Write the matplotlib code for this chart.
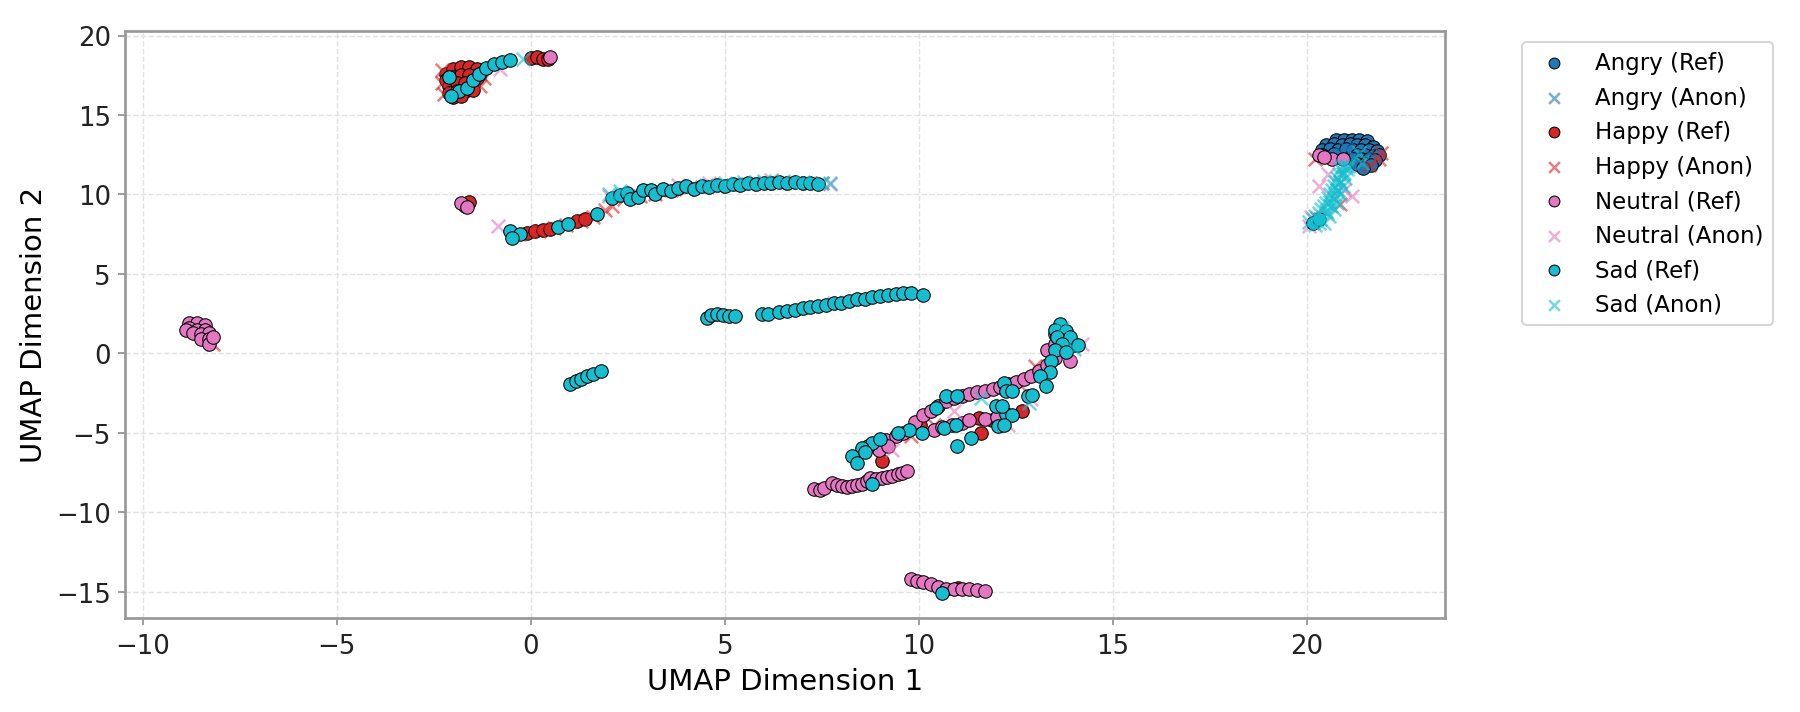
import numpy as np
import matplotlib
matplotlib.use("Agg")
import matplotlib.pyplot as plt

# ---------------------------------------------------------------------------
# UMAP points (x, y)
# ---------------------------------------------------------------------------
emotions = ["Angry", "Happy", "Neutral", "Sad"]

angry_ref = [
    (20.75, 13.4), (20.95, 13.45), (21.15, 13.45), (21.35, 13.4), (21.55, 13.35),
    (20.5, 13.1), (20.7, 13.15), (20.9, 13.1), (21.1, 13.15), (21.3, 13.1), (21.5, 13.1), (21.7, 13.0),
    (20.4, 12.8), (20.6, 12.85), (20.8, 12.8), (21.0, 12.85), (21.2, 12.8), (21.4, 12.8), (21.6, 12.8), (21.8, 12.75),
    (20.4, 12.5), (20.7, 12.55), (21.3, 12.5), (21.5, 12.5), (21.7, 12.45), (21.85, 12.5),
    (21.2, 12.2), (21.4, 12.2), (21.6, 12.2), (21.75, 12.15),
    (21.3, 11.9), (21.5, 11.9), (21.65, 11.85), (21.45, 11.65),
]
angry_anon = [(21.0, 12.9), (21.2, 12.4), (20.9, 12.6), (21.6, 12.6)]

happy_ref = [
    (-2.2, 17.6), (-2.0, 17.9), (-1.8, 18.0), (-1.6, 18.0), (-1.4, 17.9), (-1.3, 17.6),
    (-2.2, 17.2), (-2.0, 17.4), (-1.8, 17.5), (-1.6, 17.5), (-1.4, 17.3),
    (-2.1, 16.8), (-1.9, 17.0), (-1.7, 17.0), (-1.5, 16.9),
    (-2.1, 16.4), (-1.9, 16.5), (-1.7, 16.5), (-1.5, 16.6), (-2.0, 16.1), (-1.8, 16.2),
    (0.0, 18.6), (0.15, 18.65), (0.3, 18.55), (0.45, 18.5),
    (-1.6, 9.55),
    (-0.1, 7.6), (0.1, 7.7), (0.3, 7.75), (0.5, 7.85), (1.2, 8.3), (1.4, 8.45),
    (11.55, -4.06), (11.89, -4.16), (12.65, -3.6), (11.59, -5.0), (9.05, -6.78), (10.04, -4.48),
    (11.0, -14.75),
]
happy_anon = [
    (-2.3, 17.0), (-2.25, 16.3), (-1.3, 16.8), (-1.2, 17.3), (-2.3, 17.8),
    (-0.3, 7.5), (0.2, 7.7), (0.6, 7.9), (0.9, 8.05), (1.3, 8.35), (1.6, 8.6), (1.9, 9.0),
    (2.1, 9.3), (2.4, 9.7), (2.8, 9.9), (3.2, 10.05), (3.6, 10.25), (4.0, 10.35), (4.4, 10.45),
    (4.8, 10.55), (5.2, 10.6), (5.6, 10.65), (6.0, 10.7), (6.4, 10.72), (6.8, 10.75), (7.2, 10.72), (7.5, 10.7),
    (21.9, 12.6), (21.85, 12.2), (21.6, 11.85), (20.2, 12.2), (20.85, 9.4), (20.25, 8.5),
    (13.0, -0.8), (12.6, -2.0), (10.4, -4.5), (9.8, -5.2), (-8.2, 0.6),
]

neutral_ref = [
    (-8.8, 1.9), (-8.6, 1.9), (-8.4, 1.8), (-8.8, 1.6), (-8.6, 1.5), (-8.4, 1.5), (-8.9, 1.45),
    (-8.7, 1.3), (-8.5, 1.2), (-8.3, 1.3), (-8.5, 0.9), (-8.3, 0.9), (-8.3, 0.6), (-8.2, 1.0),
    (0.5, 18.65),
    (-1.7, 9.3), (-1.8, 9.45), (-1.65, 9.2),
    (9.9, -4.3), (10.1, -3.9), (10.3, -3.6), (10.5, -3.3), (10.7, -3.0), (10.9, -2.8), (11.1, -2.65),
    (11.3, -2.55), (11.5, -2.45), (11.7, -2.35), (11.9, -2.25), (12.1, -2.1), (12.3, -1.95), (12.5, -1.8),
    (12.7, -1.6), (12.9, -1.4), (13.1, -1.1), (13.3, -0.7), (13.5, -0.3), (13.3, 0.2), (13.5, 0.6),
    (13.5, 1.2), (13.8, 0.7), (14.0, 0.5), (13.9, -0.5),
    (10.4, -4.8), (10.6, -4.6), (10.85, -4.5), (11.1, -4.4), (11.3, -4.2), (11.7, -4.1), (12.0, -4.0),
    (9.14, -5.42), (9.4, -5.2), (9.6, -5.0), (8.97, -6.05), (9.2, -5.8), (8.7, -5.8),
    (7.29, -8.56), (7.45, -8.6), (7.55, -8.45), (7.77, -8.14), (7.9, -8.3), (8.02, -8.35), (8.15, -8.4),
    (8.28, -8.35), (8.4, -8.3), (8.54, -8.24), (8.65, -8.0), (8.75, -7.82), (8.9, -7.9), (9.05, -7.82),
    (9.18, -7.8), (9.31, -7.72), (9.45, -7.6), (9.57, -7.51), (9.70, -7.41),
    (20.3, 12.5), (20.64, 12.2), (20.94, 12.2), (20.45, 12.35),
    (9.8, -14.2), (9.95, -14.3), (10.1, -14.4), (10.3, -14.5), (10.5, -14.7), (10.7, -14.85),
    (10.9, -14.8), (11.1, -14.8), (11.3, -14.85), (11.5, -14.9), (11.7, -14.95),
]
neutral_anon = [
    (-0.8, 17.9), (-0.85, 8.0), (7.8, 3.15),
    (2.0, 9.9), (3.8, 10.6), (6.2, 10.9), (7.7, 10.65), (4.6, 10.7),
    (10.9, -3.6), (12.9, -2.9), (13.9, 0.0), (14.2, 0.6), (9.3, -6.1), (12.3, -4.5),
    (20.3, 10.5), (20.1, 8.6), (20.95, 10.3), (20.05, 8.0), (20.55, 11.3), (21.15, 9.9),
]

sad_ref = [
    (-2.1, 17.4), (-1.85, 16.5), (-1.65, 16.7), (-2.05, 16.2), (-1.5, 17.2), (-1.35, 17.6),
    (-1.15, 17.95), (-0.95, 18.2), (-0.75, 18.35), (-0.55, 18.45),
    (-0.54, 7.71), (-0.28, 7.5), (-0.5, 7.29), (0.7, 7.96), (0.95, 8.13), (1.7, 8.75),
    (2.1, 9.75), (2.3, 9.95), (2.47, 10.12), (2.55, 9.7), (2.75, 9.85), (2.9, 10.25), (3.1, 10.3),
    (3.2, 10.05), (3.4, 10.35), (3.6, 10.2), (3.8, 10.4), (4.0, 10.5), (4.2, 10.35), (4.4, 10.55),
    (4.6, 10.45), (4.8, 10.6), (5.0, 10.55), (5.2, 10.65), (5.4, 10.6), (5.6, 10.7), (5.8, 10.65),
    (6.0, 10.75), (6.2, 10.7), (6.4, 10.8), (6.6, 10.75), (6.8, 10.8), (7.0, 10.75), (7.2, 10.7), (7.4, 10.65),
    (1.0, -1.9), (1.15, -1.75), (1.3, -1.6), (1.45, -1.45), (1.6, -1.3), (1.8, -1.1),
    (4.55, 2.25), (4.65, 2.4), (4.8, 2.45), (4.95, 2.4), (5.1, 2.35), (5.25, 2.35),
    (5.95, 2.45), (6.1, 2.5), (6.4, 2.6), (6.6, 2.65), (6.8, 2.75), (7.0, 2.85), (7.2, 2.9),
    (7.4, 3.0), (7.6, 3.05), (7.8, 3.15), (8.0, 3.2), (8.2, 3.3), (8.4, 3.4), (8.6, 3.45),
    (8.8, 3.55), (9.0, 3.6), (9.2, 3.7), (9.4, 3.75), (9.6, 3.8), (9.8, 3.8), (10.1, 3.65),
    (13.63, 1.86), (13.5, 1.5), (13.8, 1.4), (13.55, 1.0), (13.9, 1.0), (13.7, 0.6), (14.1, 0.5),
    (13.5, 0.2), (13.8, 0.1), (13.41, -0.46), (13.37, -1.2), (13.11, -1.41), (13.28, -2.05),
    (12.81, -2.68), (12.92, -2.59),
    (12.2, -1.84), (12.25, -2.36), (12.41, -2.38), (10.43, -3.43), (10.69, -2.70), (10.99, -2.70),
    (11.99, -3.31), (12.25, -3.84), (12.04, -4.58), (10.09, -5.0), (10.64, -4.69), (10.95, -4.48),
    (12.15, -3.33), (12.41, -3.85), (12.19, -4.48),
    (10.99, -5.84), (11.33, -5.31),
    (9.74, -4.79), (8.80, -5.63), (8.54, -5.94), (8.28, -6.46), (8.41, -6.88), (8.6, -6.2),
    (9.0, -5.4), (9.45, -5.0),
    (8.80, -8.24),
    (20.15, 8.2), (20.3, 8.45),
    (10.6, -15.05),
]
sad_anon = [
    (20.86, 11.57), (20.77, 11.05), (20.69, 10.52), (20.60, 10.0), (20.49, 9.48), (20.37, 9.06), (20.22, 8.64), (20.06, 8.26),
    (21.03, 11.57), (20.97, 11.05), (20.92, 10.52), (20.86, 10.0), (20.77, 9.48), (20.69, 9.06), (20.56, 8.64), (20.43, 8.22),
    (20.95, 11.32), (20.86, 10.77), (20.77, 10.27), (20.71, 9.73), (20.63, 9.27), (20.52, 8.85), (20.34, 8.43), (20.21, 8.05),
    (20.9, 11.8), (20.82, 11.3), (20.73, 10.8), (20.65, 10.25), (20.55, 9.75), (20.45, 9.25), (20.3, 8.85), (20.15, 8.45),
    (21.0, 11.8), (20.93, 11.3), (20.85, 10.8), (20.8, 10.25), (20.72, 9.95), (20.6, 9.5), (20.48, 8.95), (20.3, 8.2),
    (21.33, 12.62), (21.42, 11.99), (21.07, 11.78),
    (2.0, 10.0), (2.3, 10.2), (4.5, 10.6), (5.0, 10.7), (5.5, 10.8), (6.0, 10.85), (6.5, 10.85),
    (7.0, 10.8), (7.5, 10.75), (7.7, 10.7),
    (-0.2, 18.5), (11.59, -2.80), (12.84, -3.12), (14.0, 0.3), (13.7, 1.6),
]

ref_points = [angry_ref, happy_ref, neutral_ref, sad_ref]
anon_points = [angry_anon, happy_anon, neutral_anon, sad_anon]

# ---------------------------------------------------------------------------
# Plot
# ---------------------------------------------------------------------------
colors = plt.cm.tab10(np.linspace(0, 1, len(emotions)))

fig = plt.figure(figsize=(12, 4.7533), dpi=150)
ax = fig.add_axes([0.0697, 0.1318, 0.7329, 0.8237])

for i, emo in enumerate(emotions):
    ref = np.array(ref_points[i])
    anon = np.array(anon_points[i])
    ax.scatter(ref[:, 0], ref[:, 1], s=42, c=[colors[i]], marker='o',
               edgecolors='k', linewidths=0.5, label=f'{emo} (Ref)')
    ax.scatter(anon[:, 0], anon[:, 1], s=42, c=[colors[i]], marker='x',
               alpha=0.6, linewidths=1.2, label=f'{emo} (Anon)')

ax.set_xlim(-10.45, 23.55)
ax.set_ylim(-16.65, 20.3)
ax.set_xlabel('UMAP Dimension 1', fontsize=14)
ax.set_ylabel('UMAP Dimension 2', fontsize=14)
ax.tick_params(labelsize=12.5, colors='0.55', labelcolor='#222222')
for sp in ax.spines.values():
    sp.set_color('0.6')
    sp.set_linewidth(1.3)
ax.grid(True, linestyle='--', color='#e2e2e2', linewidth=0.7)
ax.set_axisbelow(True)
ax.legend(bbox_to_anchor=(1.05, 1), loc='upper left', fontsize=11,
          markerscale=0.8)

fig.savefig('out.png', dpi=150)
